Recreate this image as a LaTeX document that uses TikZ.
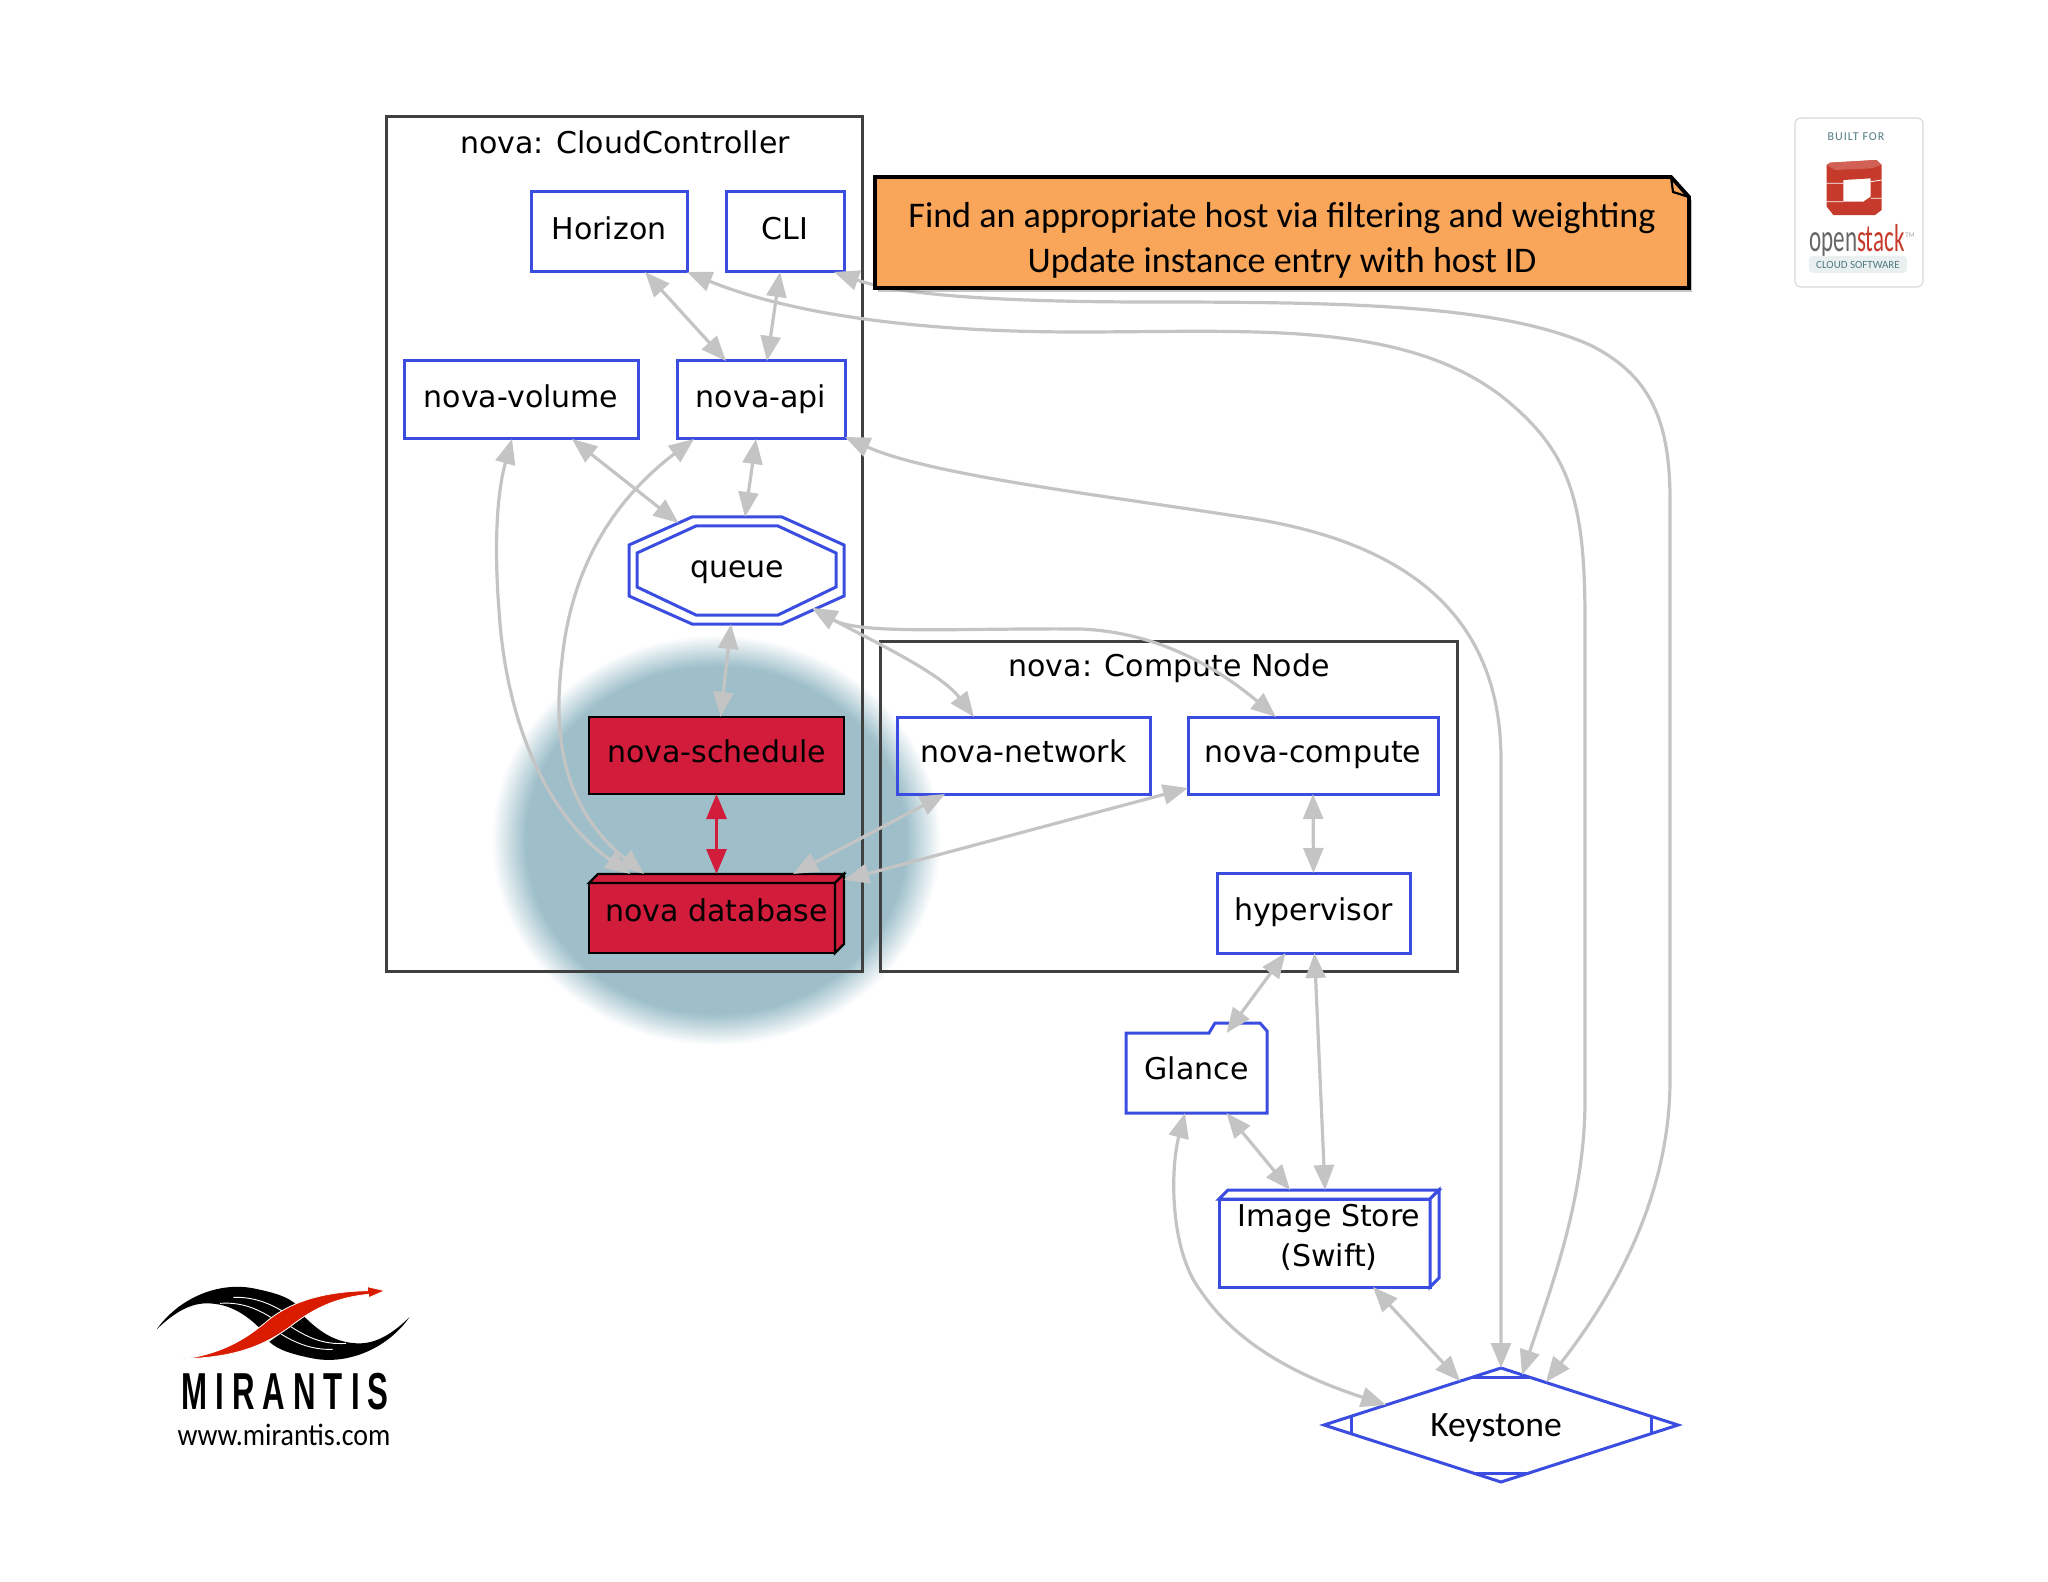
\documentclass[tikz,border=0pt]{standalone}
\usepackage{fontspec}
\setmainfont{DejaVu Sans}
\newfontfamily\slidefont{Carlito}
\newfontfamily\logofont{Liberation Sans}
\usetikzlibrary{arrows.meta,shapes.geometric,shadows}

\definecolor{boxblue}{HTML}{3A4DE0}
\definecolor{dbred}{HTML}{D21C3C}
\definecolor{linkgray}{HTML}{C4C4C4}
\definecolor{blobblue}{HTML}{9EBFCA}
\definecolor{noteorange}{HTML}{F9A65A}
\definecolor{stackred}{HTML}{C63A2B}
\definecolor{stackteal}{HTML}{4E7A80}
\pgfdeclareradialshading{blobfade}{\pgfpoint{0bp}{0bp}}{color(0bp)=(blobblue); color(20.5bp)=(blobblue); color(24.2bp)=(white); color(50bp)=(white)}

\newcommand{\boxthreed}[3]{
    \draw[#2, fill=#3] ([yshift=-4.5pt]#1.north west) rectangle ([xshift=-4.5pt]#1.south east);
    \draw[#2, fill=#3] ([yshift=-4.5pt]#1.north west) -- ([xshift=4.5pt]#1.north west) -- (#1.north east) -- ([xshift=-4.5pt,yshift=-4.5pt]#1.north east) -- cycle;
    \draw[#2, fill=#3] (#1.north east) -- ([yshift=4.5pt]#1.south east) -- ([xshift=-4.5pt]#1.south east) -- ([xshift=-4.5pt,yshift=-4.5pt]#1.north east) -- cycle;
}

\begin{document}
\begin{tikzpicture}[x=0.5pt, y=-0.5pt, >={Triangle[length=12.5pt,width=10pt]},
    every node/.style={font=\fontsize{15}{20}\selectfont, inner sep=0pt, outer sep=0pt, align=center},
    strut/.style={text height=10.7pt, text depth=3.5pt},
    group/.style={draw=black!75, line width=1.5pt},
    box/.style={draw=boxblue, line width=1.5pt, strut},
    redbox/.style={draw=black, line width=1.2pt, fill=dbred, strut},
    outline/.style={draw=boxblue, line width=1.5pt},
    link/.style={<->, draw=linkgray, line width=1.6pt},
    redlink/.style={<->, draw=dbred, line width=1.6pt}]
    \useasboundingbox (0,0) rectangle (2048,1582);

    \shade[shading=blobfade] (716,840) ellipse (232 and 212);

    % cloud controller
    \node[group, minimum width=238pt, minimum height=427pt] (cloud) at (624.5,544) {};
    \node[strut] (cloudtitle) at (625,146) {nova: CloudController};
    \node[box, minimum width=78pt, minimum height=40pt] (horizon) at (609,232) {Horizon};
    \node[box, minimum width=59pt, minimum height=40pt] (cli) at (785,232) {CLI};
    \node[box, minimum width=117pt, minimum height=39pt] (volume) at (521,400) {nova-volume};
    \node[box, minimum width=84pt, minimum height=39pt] (api) at (761,400) {nova-api};
    \node[strut, minimum width=108pt, minimum height=53.5pt] (queue) at (737,570.5) {queue};
    \draw[outline] (692,517) -- (782,517) -- (844,545) -- (844,596) -- (782,624) -- (692,624) -- (629,596) -- (629,545) -- cycle;
    \draw[outline] (696,526) -- (778,526) -- (836,553) -- (836,587) -- (778,615) -- (696,615) -- (637,587) -- (637,553) -- cycle;
    \node[redbox, minimum width=127.5pt, minimum height=38.5pt] (schedule) at (716.5,755.5) {nova-schedule};
    \node[minimum width=127.5pt, minimum height=39.5pt] (database) at (716.5,913.5) {};
    \boxthreed{database}{draw=black, line width=1.2pt}{dbred}
    \node[strut] (databasetext) at (716.5,914) {nova database};

    % compute node
    \node[group, minimum width=288.5pt, minimum height=165pt] (compute) at (1168.5,806) {};
    \node[strut] (computetitle) at (1169,669) {nova: Compute Node};
    \node[box, minimum width=126.5pt, minimum height=38.5pt] (network) at (1023.5,755.5) {nova-network};
    \node[box, minimum width=125pt, minimum height=38.5pt] (novacompute) at (1313,755.5) {nova-compute};
    \node[box, minimum width=96.5pt, minimum height=40pt] (hypervisor) at (1313.5,913) {hypervisor};

    % storage and identity
    \node[text height=11pt, text depth=0pt, minimum width=70.5pt, minimum height=45pt] (glance) at (1196.5,1068) {Glance};
    \draw[outline] (1126,1033) -- (1209,1033) -- (1215,1023) -- (1260,1023) -- (1267,1031) -- (1267,1113) -- (1126,1113) -- cycle;
    \node[minimum width=110pt, minimum height=48.5pt] (store) at (1329,1238.5) {};
    \boxthreed{store}{draw=boxblue, line width=1.5pt}{white}
    \node (storetext) at (1329,1237) {Image Store\\(Swift)};
    \node[diamond, aspect=3, outline, minimum width=177pt, minimum height=57pt] (keystone) at (1501,1425) {};
    \draw[outline] ([xshift=-13.8pt,yshift=-4.5pt]keystone.north) -- ([xshift=13.8pt,yshift=-4.5pt]keystone.north);
    \draw[outline] ([xshift=-13.8pt,yshift=4.5pt]keystone.south) -- ([xshift=13.8pt,yshift=4.5pt]keystone.south);
    \draw[outline] ([xshift=13.5pt,yshift=-4.4pt]keystone.west) -- ([xshift=13.5pt,yshift=4.4pt]keystone.west);
    \draw[outline] ([xshift=-13.5pt,yshift=-4.4pt]keystone.east) -- ([xshift=-13.5pt,yshift=4.4pt]keystone.east);
    \node[font=\slidefont\fontsize{17.8}{20}\selectfont] (keystonetext) at (1496,1428) {Keystone};

    % connectors
    \draw[link] ([xshift=18pt]horizon.south) -- ([xshift=-17.5pt]api.north);
    \draw[link] ([xshift=-2.5pt]cli.south) -- ([xshift=3pt]api.north);
    \draw[link] ([xshift=25.5pt]volume.south) -- ([xshift=-29.25pt,yshift=-3pt]queue.north);
    \draw[link] ([xshift=-2.5pt]api.south) -- ([xshift=4pt]queue.north);
    \draw[link] ([xshift=-3pt]queue.south) -- ([xshift=2pt]schedule.north);
    \draw[redlink] (schedule.south) -- (database.north);
    \draw[link] ([xshift=8.5pt]api.south west) .. controls (620,495) and (572,560) .. (562,660) .. controls (552,740) and (565,810) .. ([xshift=27.5pt]database.north west);
    \draw[link] ([xshift=-4.5pt]volume.south) .. controls (495,500) and (495,560) .. (499,610) .. controls (505,710) and (540,810) .. ([xshift=20.5pt]database.north west);
    \draw[link] ([xshift=37.5pt,yshift=8pt]queue.south) .. controls (870,640) and (940,672) .. ([xshift=-24.75pt]network.north);
    \draw[link] ([xshift=37.5pt,yshift=8pt]queue.south) .. controls (860,635) and (960,628) .. (1080,629) .. controls (1160,632) and (1220,670) .. ([xshift=-18.5pt]novacompute.north);
    \draw[link] ([xshift=24pt]network.south west) -- ([xshift=102pt]database.north west);
    \draw[link] ([yshift=3pt]novacompute.south west) -- ([yshift=-3pt]database.north east);
    \draw[link] (novacompute.south) -- (hypervisor.north);
    \draw[link] ([xshift=-14pt]hypervisor.south) -- ([xshift=15pt,yshift=-5pt]glance.north);
    \draw[link] ([xshift=.5pt]hypervisor.south) -- ([xshift=-2pt]store.north);
    \draw[link] ([xshift=15pt]glance.south) -- ([xshift=-19.5pt]store.north);
    \draw[link] ([xshift=-5.75pt]glance.south) .. controls (1170,1170) and (1170,1250) .. (1200,1290) .. controls (1240,1350) and (1310,1380) .. ([xshift=-57.5pt,yshift=10pt]keystone.center);
    \draw[link] ([xshift=22pt]store.south) -- ([xshift=-20.5pt,yshift=-6.5pt]keystone.north);
    \draw[link] (horizon.south east) .. controls (780,310) and (900,332) .. (1077,332) .. controls (1250,332) and (1400,320) .. (1500,395) .. controls (1570,450) and (1585,500) .. (1585,620) -- (1585,1100) .. controls (1585,1200) and (1550,1290) .. ([xshift=10.5pt,yshift=-3.5pt]keystone.north);
    \draw[link] ([xshift=-5pt]cli.south east) .. controls (900,295) and (1000,302) .. (1150,302) .. controls (1350,302) and (1500,305) .. (1590,345) .. controls (1650,375) and (1670,420) .. (1670,500) -- (1670,1080) .. controls (1670,1200) and (1610,1300) .. ([xshift=22.5pt,yshift=-7pt]keystone.north);
    \draw[link] ([yshift=1pt]api.south east) .. controls (930,475) and (1100,495) .. (1242,517) .. controls (1400,540) and (1501,610) .. (1501,760) -- (keystone.north);

    % note
    \draw[line width=1.9pt, fill=noteorange, drop shadow={shadow xshift=1.5pt, shadow yshift=-2pt, opacity=.45}] (875,177) -- (1671,177) -- (1689,197) -- (1689,288) -- (875,288) -- cycle;
    \draw[line width=1.1pt] (1671,177) -- (1673,192) -- (1689,197);
    \node[font=\slidefont\fontsize{18.05}{22.5}\selectfont] (note) at (1282,240) {Find an appropriate host via filtering and weighting\\Update instance entry with host ID};

    % openstack badge
    \node[draw=black!15, line width=.6pt, rounded corners=3pt, minimum width=64pt, minimum height=84.5pt] (badge) at (1859,202.5) {};
    \node[text=stackteal, font=\slidefont\fontsize{6}{7}\selectfont\addfontfeatures{LetterSpace=8}] (builtfor) at (1856,137) {BUILT FOR};
    \begin{scope}[shift={(1780,100)}, x=0.1667pt, y=-0.1667pt]
        \fill[stackred, even odd rule] (140,195) -- (150,188) -- (290,180) -- (305,195) -- (305,330) -- (285,345) -- (160,345) -- (140,320) -- cycle (190,240) -- (272,235) -- (272,290) -- (250,305) -- (190,305) -- cycle;
        \fill[stackred!80!white] (140,195) -- (150,188) -- (290,180) -- (305,195) -- (275,205) -- (165,210) -- cycle;
        \draw[white, line width=.4pt] (140,250) -- (190,250) (272,245) -- (305,240) (140,305) -- (190,305) (272,295) -- (305,295);
    \end{scope}
    \node[font=\slidefont\fontsize{19.5}{20}\selectfont] (openstack) at (1857,241) {\scalebox{0.59}[1]{\textcolor{black!60}{open}\textcolor{stackred}{stack}}};
    \node[text=black!35, font=\slidefont\fontsize{3.5}{4}\selectfont] (trademark) at (1910,235) {TM};
    \node[fill=stackteal!12, rounded corners=2pt, minimum width=49pt, minimum height=8.5pt, text=stackteal, font=\slidefont\fontsize{5.5}{7}\selectfont] (cloudsw) at (1858,264.5) {CLOUD SOFTWARE};

    % mirantis logo
    \begin{scope}[shift={(130,1260)}, x=0.1667pt, y=-0.1667pt]
        \foreach \ang in {0,180}{
            \begin{scope}[rotate around={\ang:(459,190)}]
                \fill[black] (80,208) .. controls (150,110) and (270,65) .. (370,85) .. controls (430,97) and (475,110) .. (500,135) -- (395,210) .. controls (350,165) and (300,130) .. (230,130) .. controls (170,130) and (120,170) .. (80,208) -- cycle;
                \draw[white, line width=.45pt] (270,130) .. controls (340,125) and (390,150) .. (440,183);
                \draw[white, line width=.45pt] (310,112) .. controls (370,110) and (420,130) .. (465,158);
            \end{scope}
        }
        \fill[red!75!orange!85!black, draw=white, line width=.4pt] (160,297) .. controls (280,280) and (350,235) .. (415,180) .. controls (490,120) and (590,95) .. (712,92) -- (712,80) -- (764,92) -- (716,113) -- (715,103) .. controls (620,112) and (550,145) .. (480,200) .. controls (385,270) and (290,292) .. (160,297) -- cycle;
    \end{scope}
    \node[font=\logofont\bfseries\fontsize{26}{30}\selectfont\addfontfeatures{LetterSpace=26}] (mirantis) at (285,1392) {\scalebox{0.6}[1]{MIRANTIS}};
    \node[font=\slidefont\fontsize{15.5}{16}\selectfont] (mirantisurl) at (284,1435) {\scalebox{0.9}[1]{www.mirantis.com}};
\end{tikzpicture}
\end{document}
